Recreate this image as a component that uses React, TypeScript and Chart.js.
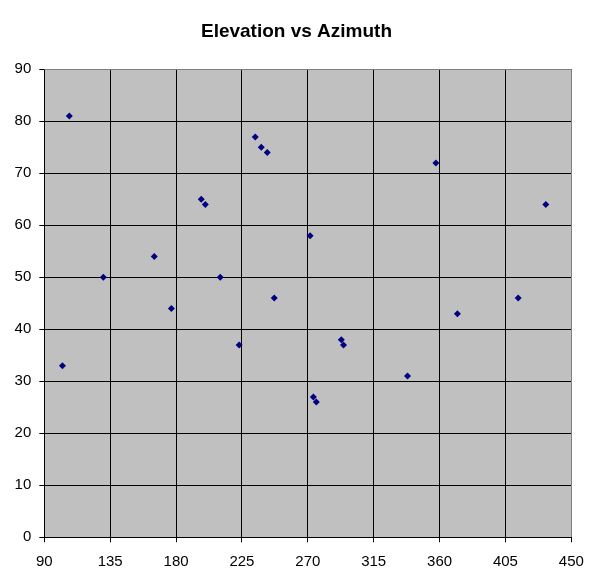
import React, { useEffect, useRef } from "react";
import { Chart, registerables } from "chart.js";

Chart.register(...registerables);

const TITLE = "Elevation vs Azimuth";
const azimuth = [102.4, 107.1, 130.3, 165.1, 176.8, 197.2, 200, 210.2, 223.1, 234.1, 238.2, 242.3, 247.1, 271.6, 273.8, 275.8, 292.9, 294.4, 338.1, 357.5, 372.2, 413.7, 432.6];
const elevation = [33, 81, 50, 54, 44, 65, 64, 50, 37, 77, 75, 74, 46, 58, 27, 26, 38, 37, 31, 72, 43, 46, 64];
const xRange = { min: 90, max: 450, step: 45 };
const yRange = { min: 0, max: 90, step: 10 };

const FONT = 'Arial, "Liberation Sans", sans-serif';

const plotBg = {
  id: "plotBg",
  beforeDraw(chart: any) {
    const { ctx, chartArea: a } = chart;
    ctx.save();
    ctx.fillStyle = "#C0C0C0";
    ctx.fillRect(a.left, a.top, a.right - a.left, a.bottom - a.top);
    ctx.restore();
  },
  beforeDatasetsDraw(chart: any) {
    const { ctx, chartArea: a } = chart;
    ctx.save();
    ctx.strokeStyle = "#808080";
    ctx.lineWidth = 1;
    ctx.beginPath();
    ctx.moveTo(Math.round(a.left) + 0.5, Math.round(a.top) + 0.5);
    ctx.lineTo(Math.round(a.right) + 0.5, Math.round(a.top) + 0.5);
    ctx.lineTo(Math.round(a.right) + 0.5, Math.round(a.bottom));
    ctx.stroke();
    ctx.restore();
  },
};

export default function App() {
  const ref = useRef<HTMLCanvasElement>(null);
  useEffect(() => {
    if (!ref.current) return;
    const points = azimuth.map((x, i) => ({ x, y: elevation[i] }));
    const chart = new Chart(ref.current, {
      type: "scatter",
      data: {
        datasets: [
          {
            data: points,
            pointStyle: "rectRot",
            pointRadius: 3.5,
            pointBorderWidth: 0,
            backgroundColor: "#000080",
            borderColor: "#000080",
          },
        ],
      },
      options: {
        responsive: false,
        animation: false,
        layout: { padding: 0 },
        plugins: {
          legend: { display: false },
          tooltip: { enabled: false },
          title: {
            display: true,
            text: TITLE,
            color: "#000",
            font: { family: FONT, size: 19, weight: "bold" },
            padding: { top: 20.6, bottom: 25.9 },
          },
        },
        scales: {
          x: {
            type: "linear",
            min: xRange.min,
            max: xRange.max,
            afterFit: (s: any) => {
              s.height = 46.7;
              s.paddingRight = 21.7;
            },
            ticks: {
              stepSize: xRange.step,
              color: "#000",
              font: { family: FONT, size: 15 },
              padding: 11,
              maxRotation: 0,
            },
            grid: { color: "#000", lineWidth: 1, tickLength: 5 },
            border: { color: "#000", width: 1 },
          },
          y: {
            type: "linear",
            min: yRange.min,
            max: yRange.max,
            afterFit: (s: any) => {
              s.width = 44.3;
            },
            ticks: {
              stepSize: yRange.step,
              color: "#000",
              font: { family: FONT, size: 15 },
              padding: 8,
            },
            grid: { color: "#000", lineWidth: 1, tickLength: 5 },
            border: { color: "#000", width: 1 },
          },
        },
      },
      plugins: [plotBg],
    });
    return () => chart.destroy();
  }, []);
  return (
    <div style={{ position: "absolute", left: 0, top: 0, width: 593, height: 584, background: "#fff" }}>
      <canvas ref={ref} width={593} height={584} />
    </div>
  );
}
